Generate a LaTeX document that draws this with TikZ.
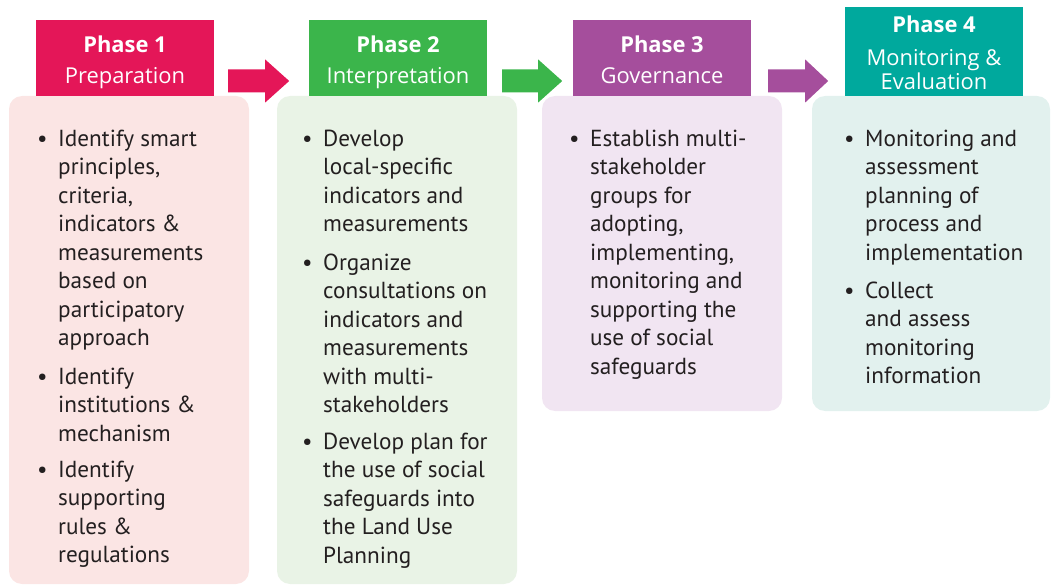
\documentclass[tikz,border=0pt]{standalone}
\usepackage{fontspec}
\setmainfont{PT Sans}
\newfontfamily\headfont{Open Sans}
\definecolor{cA}{HTML}{E41658}
\definecolor{cB}{HTML}{3BB54B}
\definecolor{cC}{HTML}{A54E9C}
\definecolor{cD}{HTML}{00A99D}
\definecolor{fA}{HTML}{FBE5E4}
\definecolor{fB}{HTML}{E9F3E6}
\definecolor{fC}{HTML}{F1E5F2}
\definecolor{fD}{HTML}{E2F1EE}
\definecolor{ink}{HTML}{231F20}
\begin{document}
\begin{tikzpicture}[x=1bp,y=-1bp,
  body/.style={rounded corners=13bp, draw=none},
  head/.style={rectangle, minimum width=178bp, inner sep=0pt},
  htext/.style={inner sep=0pt, text=white, align=center,
     font=\headfont\fontsize{22}{31}\selectfont},
  itm/.style={anchor=north west, inner sep=0pt, align=left, text=ink,
     font=\fontsize{23.3}{28.6}\selectfont}]
\useasboundingbox (0,0) rectangle (1051,587);
% bodies
\fill[body, fA] (9,96) rectangle (249,584);
\fill[body, fB] (277,96) rectangle (517,584);
\fill[body, fC] (542,96) rectangle (782,411);
\fill[body, fD] (812,96) rectangle (1050,411);
% headers
\node[head, fill=cA, minimum height=76bp] (h1) at (125,58) {};
\node[head, fill=cB, minimum height=76bp] (h2) at (398,58) {};
\node[head, fill=cC, minimum height=76bp] (h3) at (662,58) {};
\node[head, fill=cD, minimum height=89bp] (h4) at (934,51.5) {};
\node[htext] (t1) at ([yshift=-3.5bp]h1.center) {\strut\textbf{Phase 1}\\\strut Preparation};
\node[htext] (t2) at ([yshift=-3.5bp]h2.center) {\strut\textbf{Phase 2}\\\strut Interpretation};
\node[htext] (t3) at ([yshift=-3.5bp]h3.center) {\strut\textbf{Phase 3}\\\strut Governance};
\node[htext, font=\headfont\fontsize{22}{24}\selectfont] (t4) at ([yshift=-5bp]h4.center) {\strut\textbf{Phase 4}\\[9bp]\strut Monitoring \&\\\strut Evaluation};
% arrows
\fill[cA] ([xshift=14bp,yshift=-11.5bp]h1.east) -- ++(37,0) -- ++(0,-10) -- ++(24,21.5) -- ++(-24,21.5) -- ++(0,-10) -- ++(-37,0) -- cycle;
\fill[cB] ([xshift=15bp,yshift=-11.5bp]h2.east) -- ++(36,0) -- ++(0,-10) -- ++(24,21.5) -- ++(-24,21.5) -- ++(0,-10) -- ++(-36,0) -- cycle;
\fill[cC] ([xshift=17bp,yshift=-11.5bp]h3.east) -- ++(37,0) -- ++(0,-10) -- ++(23,21.5) -- ++(-23,21.5) -- ++(0,-10) -- ++(-37,0) -- cycle;
% items
\newcommand{\bul}{\strut\llap{\textbullet\hspace{10.5bp}}}
\node[itm] (i11) at (58,126) {\bul Identify smart\\principles,\\criteria,\\indicators \&\\measurements\\based on\\participatory\\approach};
\node[itm] (i12) at (58,364) {\bul Identify\\institutions \&\\mechanism};
\node[itm] (i13) at (58,457) {\bul Identify\\supporting\\rules \&\\regulations};
\node[itm] (i21) at (323,126) {\bul Develop\\local-specific\\indicators and\\measurements};
\node[itm] (i22) at (323,250) {\bul Organize\\consultations on\\indicators and\\measurements\\with multi-\\stakeholders};
\node[itm] (i23) at (323,429) {\bul Develop plan for\\the use of social\\safeguards into\\the Land Use\\Planning};
\node[itm] (i31) at (590,126) {\bul Establish multi-\\stakeholder\\groups for\\adopting,\\implementing,\\monitoring and\\supporting the\\use of social\\safeguards};
\node[itm] (i41) at (865,126) {\bul Monitoring and\\assessment\\planning of\\process and\\implementation};
\node[itm] (i42) at (865,278) {\bul Collect\\and assess\\monitoring\\information};
\end{tikzpicture}
\end{document}
